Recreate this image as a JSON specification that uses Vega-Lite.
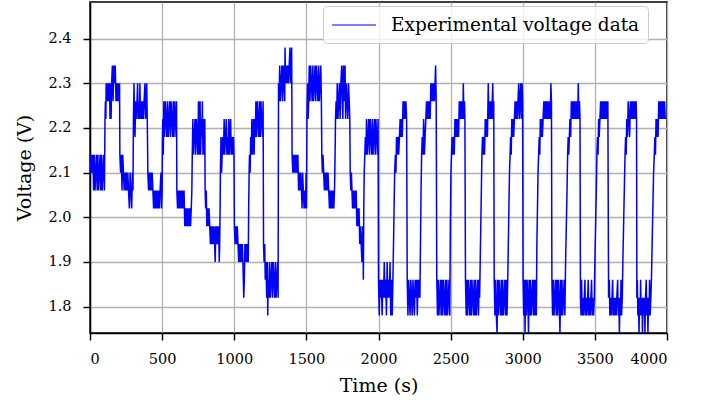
{
"$schema": "https://vega.github.io/schema/vega-lite/v6.json",
"width": 577,
"height": 331,
"autosize": {"type": "none"},
"padding": {"left": 90, "top": 2, "right": 45, "bottom": 72},
"config": {
  "font": "DejaVu Serif",
  "view": {"stroke": "#000000", "strokeWidth": 1.5},
  "axis": {
    "domainColor": "#000000", "domainWidth": 1.5,
    "tickColor": "#000000", "tickWidth": 1.5, "tickSize": 7,
    "labelFont": "DejaVu Serif", "labelFontSize": 14.5, "labelColor": "#000000",
    "titleFont": "DejaVu Serif", "titleFontSize": 19, "titleFontWeight": "normal", "titleColor": "#000000",
    "gridColor": "#b0b0b0", "gridWidth": 1.3, "gridOpacity": 1
  }
},
"data": {"values": [
{"time":0,"voltage":2.14},{"time":5,"voltage":2.10},{"time":10,"voltage":2.14},{"time":15,"voltage":2.10},{"time":20,"voltage":2.14},{"time":25,"voltage":2.06},{"time":30,"voltage":2.14},{"time":35,"voltage":2.06},{"time":40,"voltage":2.10},{"time":45,"voltage":2.14},{"time":50,"voltage":2.06},{"time":55,"voltage":2.14},{"time":60,"voltage":2.06},{"time":65,"voltage":2.10},{"time":70,"voltage":2.14},{"time":75,"voltage":2.06},{"time":80,"voltage":2.14},{"time":85,"voltage":2.06},{"time":90,"voltage":2.10},{"time":95,"voltage":2.14},{"time":100,"voltage":2.06},
{"time":104,"voltage":2.22},{"time":107,"voltage":2.26},{"time":110,"voltage":2.22},{"time":112,"voltage":2.30},{"time":117,"voltage":2.26},{"time":122,"voltage":2.30},{"time":127,"voltage":2.26},{"time":132,"voltage":2.30},{"time":137,"voltage":2.26},{"time":139,"voltage":2.22},{"time":142,"voltage":2.30},{"time":146,"voltage":2.22},{"time":150,"voltage":2.30},{"time":155,"voltage":2.34},{"time":160,"voltage":2.26},{"time":165,"voltage":2.34},{"time":170,"voltage":2.30},{"time":175,"voltage":2.34},{"time":180,"voltage":2.26},{"time":185,"voltage":2.30},{"time":190,"voltage":2.26},{"time":195,"voltage":2.30},{"time":200,"voltage":2.26},{"time":205,"voltage":2.30},
{"time":207,"voltage":2.14},{"time":212,"voltage":2.10},{"time":217,"voltage":2.14},{"time":222,"voltage":2.06},{"time":227,"voltage":2.14},{"time":232,"voltage":2.10},{"time":237,"voltage":2.06},{"time":242,"voltage":2.10},{"time":247,"voltage":2.06},{"time":252,"voltage":2.10},{"time":257,"voltage":2.06},{"time":262,"voltage":2.10},{"time":267,"voltage":2.06},{"time":273,"voltage":2.02},{"time":278,"voltage":2.10},{"time":283,"voltage":2.06},{"time":289,"voltage":2.02},{"time":294,"voltage":2.10},{"time":298,"voltage":2.06},
{"time":301,"voltage":2.22},{"time":305,"voltage":2.30},{"time":308,"voltage":2.22},{"time":312,"voltage":2.18},{"time":316,"voltage":2.26},{"time":321,"voltage":2.22},{"time":326,"voltage":2.26},{"time":330,"voltage":2.30},{"time":334,"voltage":2.22},{"time":339,"voltage":2.26},{"time":343,"voltage":2.22},{"time":346,"voltage":2.30},{"time":350,"voltage":2.22},{"time":355,"voltage":2.26},{"time":360,"voltage":2.22},{"time":365,"voltage":2.26},{"time":370,"voltage":2.22},{"time":375,"voltage":2.26},{"time":381,"voltage":2.30},{"time":385,"voltage":2.22},{"time":390,"voltage":2.26},{"time":393,"voltage":2.30},{"time":397,"voltage":2.22},
{"time":401,"voltage":2.10},{"time":406,"voltage":2.06},{"time":411,"voltage":2.10},{"time":416,"voltage":2.06},{"time":421,"voltage":2.10},{"time":426,"voltage":2.06},{"time":431,"voltage":2.10},{"time":436,"voltage":2.06},{"time":441,"voltage":2.02},{"time":446,"voltage":2.06},{"time":451,"voltage":2.02},{"time":456,"voltage":2.06},{"time":461,"voltage":2.02},{"time":466,"voltage":2.06},{"time":471,"voltage":2.02},{"time":476,"voltage":2.06},{"time":481,"voltage":2.02},{"time":486,"voltage":2.06},{"time":492,"voltage":2.10},{"time":496,"voltage":2.02},{"time":500,"voltage":2.06},
{"time":502,"voltage":2.18},{"time":505,"voltage":2.22},{"time":508,"voltage":2.14},{"time":512,"voltage":2.26},{"time":517,"voltage":2.18},{"time":522,"voltage":2.26},{"time":527,"voltage":2.22},{"time":532,"voltage":2.18},{"time":537,"voltage":2.26},{"time":542,"voltage":2.18},{"time":547,"voltage":2.22},{"time":552,"voltage":2.26},{"time":557,"voltage":2.18},{"time":562,"voltage":2.26},{"time":567,"voltage":2.22},{"time":572,"voltage":2.18},{"time":577,"voltage":2.26},{"time":582,"voltage":2.18},{"time":587,"voltage":2.26},{"time":592,"voltage":2.22},{"time":597,"voltage":2.18},{"time":600,"voltage":2.26},
{"time":602,"voltage":2.06},{"time":607,"voltage":2.02},{"time":612,"voltage":2.06},{"time":617,"voltage":2.02},{"time":622,"voltage":2.06},{"time":627,"voltage":2.02},{"time":632,"voltage":2.06},{"time":637,"voltage":2.02},{"time":642,"voltage":2.06},{"time":647,"voltage":2.02},{"time":652,"voltage":2.06},{"time":657,"voltage":1.98},{"time":662,"voltage":2.02},{"time":667,"voltage":1.98},{"time":672,"voltage":2.02},{"time":677,"voltage":1.98},{"time":682,"voltage":2.02},{"time":687,"voltage":1.98},{"time":692,"voltage":2.02},{"time":697,"voltage":1.98},{"time":702,"voltage":2.02},
{"time":706,"voltage":2.06},{"time":709,"voltage":2.14},{"time":713,"voltage":2.22},{"time":718,"voltage":2.14},{"time":723,"voltage":2.18},{"time":728,"voltage":2.22},{"time":733,"voltage":2.14},{"time":738,"voltage":2.22},{"time":743,"voltage":2.18},{"time":748,"voltage":2.14},{"time":752,"voltage":2.26},{"time":756,"voltage":2.14},{"time":760,"voltage":2.22},{"time":763,"voltage":2.26},{"time":767,"voltage":2.14},{"time":772,"voltage":2.22},{"time":776,"voltage":2.18},{"time":779,"voltage":2.26},{"time":783,"voltage":2.14},{"time":788,"voltage":2.22},{"time":793,"voltage":2.14},{"time":796,"voltage":2.22},
{"time":798,"voltage":2.06},{"time":802,"voltage":2.02},{"time":806,"voltage":2.06},{"time":810,"voltage":1.98},{"time":815,"voltage":2.02},{"time":820,"voltage":1.98},{"time":825,"voltage":2.02},{"time":830,"voltage":1.98},{"time":835,"voltage":1.94},{"time":840,"voltage":1.98},{"time":845,"voltage":1.94},{"time":850,"voltage":1.98},{"time":855,"voltage":1.94},{"time":860,"voltage":1.98},{"time":864,"voltage":1.94},{"time":868,"voltage":1.90},{"time":872,"voltage":1.98},{"time":877,"voltage":1.94},{"time":882,"voltage":1.98},{"time":887,"voltage":1.94},{"time":892,"voltage":1.98},{"time":896,"voltage":1.90},{"time":899,"voltage":1.94},
{"time":902,"voltage":2.02},{"time":904,"voltage":2.10},{"time":908,"voltage":2.18},{"time":912,"voltage":2.10},{"time":916,"voltage":2.14},{"time":920,"voltage":2.18},{"time":925,"voltage":2.14},{"time":930,"voltage":2.22},{"time":934,"voltage":2.14},{"time":939,"voltage":2.18},{"time":945,"voltage":2.22},{"time":949,"voltage":2.14},{"time":954,"voltage":2.18},{"time":958,"voltage":2.14},{"time":962,"voltage":2.22},{"time":966,"voltage":2.14},{"time":970,"voltage":2.18},{"time":975,"voltage":2.22},{"time":979,"voltage":2.14},{"time":984,"voltage":2.18},{"time":989,"voltage":2.14},{"time":994,"voltage":2.18},{"time":998,"voltage":2.14},
{"time":1001,"voltage":1.98},{"time":1006,"voltage":1.94},{"time":1011,"voltage":1.98},{"time":1016,"voltage":1.94},{"time":1021,"voltage":1.98},{"time":1026,"voltage":1.94},{"time":1031,"voltage":1.90},{"time":1036,"voltage":1.94},{"time":1041,"voltage":1.90},{"time":1046,"voltage":1.94},{"time":1051,"voltage":1.90},{"time":1056,"voltage":1.94},{"time":1060,"voltage":1.90},{"time":1063,"voltage":1.86},{"time":1066,"voltage":1.82},{"time":1070,"voltage":1.86},{"time":1074,"voltage":1.94},{"time":1079,"voltage":1.90},{"time":1084,"voltage":1.94},{"time":1089,"voltage":1.90},{"time":1094,"voltage":1.94},{"time":1097,"voltage":1.90},
{"time":1100,"voltage":2.02},{"time":1103,"voltage":2.10},{"time":1106,"voltage":2.14},{"time":1110,"voltage":2.10},{"time":1114,"voltage":2.18},{"time":1118,"voltage":2.14},{"time":1122,"voltage":2.22},{"time":1126,"voltage":2.14},{"time":1130,"voltage":2.18},{"time":1134,"voltage":2.22},{"time":1138,"voltage":2.14},{"time":1142,"voltage":2.22},{"time":1146,"voltage":2.18},{"time":1150,"voltage":2.26},{"time":1155,"voltage":2.18},{"time":1160,"voltage":2.26},{"time":1165,"voltage":2.22},{"time":1170,"voltage":2.18},{"time":1175,"voltage":2.26},{"time":1180,"voltage":2.18},{"time":1185,"voltage":2.26},{"time":1190,"voltage":2.22},{"time":1195,"voltage":2.18},{"time":1200,"voltage":2.26},
{"time":1203,"voltage":1.94},{"time":1207,"voltage":1.90},{"time":1211,"voltage":1.94},{"time":1215,"voltage":1.86},{"time":1220,"voltage":1.90},{"time":1225,"voltage":1.82},{"time":1230,"voltage":1.90},{"time":1232,"voltage":1.78},{"time":1235,"voltage":1.86},{"time":1240,"voltage":1.82},{"time":1245,"voltage":1.90},{"time":1250,"voltage":1.82},{"time":1255,"voltage":1.86},{"time":1260,"voltage":1.90},{"time":1265,"voltage":1.82},{"time":1270,"voltage":1.90},{"time":1275,"voltage":1.86},{"time":1280,"voltage":1.82},{"time":1285,"voltage":1.90},{"time":1290,"voltage":1.82},{"time":1295,"voltage":1.86},{"time":1300,"voltage":1.90},{"time":1304,"voltage":1.82},
{"time":1307,"voltage":2.30},{"time":1311,"voltage":2.26},{"time":1315,"voltage":2.34},{"time":1320,"voltage":2.26},{"time":1325,"voltage":2.30},{"time":1330,"voltage":2.34},{"time":1335,"voltage":2.26},{"time":1340,"voltage":2.34},{"time":1345,"voltage":2.30},{"time":1350,"voltage":2.26},{"time":1352,"voltage":2.38},{"time":1356,"voltage":2.30},{"time":1361,"voltage":2.34},{"time":1366,"voltage":2.30},{"time":1371,"voltage":2.34},{"time":1376,"voltage":2.30},{"time":1381,"voltage":2.34},{"time":1386,"voltage":2.38},{"time":1390,"voltage":2.30},{"time":1395,"voltage":2.34},{"time":1398,"voltage":2.38},
{"time":1401,"voltage":2.14},{"time":1406,"voltage":2.10},{"time":1411,"voltage":2.14},{"time":1416,"voltage":2.10},{"time":1421,"voltage":2.14},{"time":1426,"voltage":2.10},{"time":1431,"voltage":2.14},{"time":1436,"voltage":2.10},{"time":1441,"voltage":2.14},{"time":1446,"voltage":2.06},{"time":1451,"voltage":2.10},{"time":1456,"voltage":2.06},{"time":1461,"voltage":2.10},{"time":1466,"voltage":2.06},{"time":1470,"voltage":2.02},{"time":1474,"voltage":2.10},{"time":1479,"voltage":2.06},{"time":1484,"voltage":2.02},{"time":1489,"voltage":2.06},{"time":1494,"voltage":2.02},{"time":1498,"voltage":2.10},{"time":1501,"voltage":2.02},
{"time":1504,"voltage":2.22},{"time":1508,"voltage":2.30},{"time":1512,"voltage":2.22},{"time":1516,"voltage":2.26},{"time":1520,"voltage":2.34},{"time":1525,"voltage":2.26},{"time":1530,"voltage":2.34},{"time":1535,"voltage":2.30},{"time":1540,"voltage":2.26},{"time":1545,"voltage":2.34},{"time":1550,"voltage":2.26},{"time":1555,"voltage":2.30},{"time":1560,"voltage":2.34},{"time":1565,"voltage":2.26},{"time":1570,"voltage":2.34},{"time":1575,"voltage":2.30},{"time":1580,"voltage":2.26},{"time":1585,"voltage":2.34},{"time":1590,"voltage":2.26},{"time":1595,"voltage":2.30},{"time":1600,"voltage":2.34},{"time":1604,"voltage":2.26},
{"time":1607,"voltage":2.14},{"time":1611,"voltage":2.10},{"time":1615,"voltage":2.14},{"time":1620,"voltage":2.10},{"time":1625,"voltage":2.06},{"time":1630,"voltage":2.10},{"time":1635,"voltage":2.06},{"time":1640,"voltage":2.10},{"time":1645,"voltage":2.06},{"time":1650,"voltage":2.10},{"time":1655,"voltage":2.06},{"time":1660,"voltage":2.02},{"time":1665,"voltage":2.06},{"time":1670,"voltage":2.02},{"time":1675,"voltage":2.06},{"time":1680,"voltage":2.02},{"time":1685,"voltage":2.06},{"time":1690,"voltage":2.02},{"time":1695,"voltage":2.06},
{"time":1699,"voltage":2.14},{"time":1702,"voltage":2.22},{"time":1706,"voltage":2.26},{"time":1710,"voltage":2.22},{"time":1714,"voltage":2.30},{"time":1719,"voltage":2.22},{"time":1724,"voltage":2.26},{"time":1729,"voltage":2.30},{"time":1734,"voltage":2.22},{"time":1739,"voltage":2.30},{"time":1745,"voltage":2.34},{"time":1749,"voltage":2.26},{"time":1753,"voltage":2.22},{"time":1757,"voltage":2.34},{"time":1761,"voltage":2.26},{"time":1768,"voltage":2.34},{"time":1772,"voltage":2.22},{"time":1777,"voltage":2.30},{"time":1782,"voltage":2.26},{"time":1787,"voltage":2.22},{"time":1792,"voltage":2.30},{"time":1797,"voltage":2.26},{"time":1801,"voltage":2.22},
{"time":1804,"voltage":2.10},{"time":1808,"voltage":2.06},{"time":1812,"voltage":2.10},{"time":1816,"voltage":2.06},{"time":1820,"voltage":2.02},{"time":1825,"voltage":2.06},{"time":1830,"voltage":2.02},{"time":1835,"voltage":2.06},{"time":1840,"voltage":2.02},{"time":1845,"voltage":2.06},{"time":1850,"voltage":1.98},{"time":1855,"voltage":2.02},{"time":1860,"voltage":1.98},{"time":1865,"voltage":2.02},{"time":1870,"voltage":1.94},{"time":1875,"voltage":1.98},{"time":1880,"voltage":1.94},{"time":1885,"voltage":1.90},{"time":1889,"voltage":1.98},{"time":1893,"voltage":1.94},{"time":1895,"voltage":1.86},
{"time":1898,"voltage":2.02},{"time":1901,"voltage":2.10},{"time":1905,"voltage":2.14},{"time":1909,"voltage":2.18},{"time":1913,"voltage":2.14},{"time":1917,"voltage":2.22},{"time":1922,"voltage":2.14},{"time":1927,"voltage":2.18},{"time":1932,"voltage":2.22},{"time":1937,"voltage":2.14},{"time":1942,"voltage":2.22},{"time":1947,"voltage":2.18},{"time":1952,"voltage":2.14},{"time":1957,"voltage":2.22},{"time":1962,"voltage":2.14},{"time":1967,"voltage":2.18},{"time":1972,"voltage":2.22},{"time":1977,"voltage":2.14},{"time":1982,"voltage":2.22},{"time":1987,"voltage":2.18},{"time":1992,"voltage":2.14},{"time":1997,"voltage":2.22},
{"time":2000,"voltage":1.86},{"time":2005,"voltage":1.78},{"time":2010,"voltage":1.86},{"time":2015,"voltage":1.82},{"time":2020,"voltage":1.86},{"time":2025,"voltage":1.78},{"time":2030,"voltage":1.86},{"time":2035,"voltage":1.82},{"time":2040,"voltage":1.90},{"time":2045,"voltage":1.82},{"time":2050,"voltage":1.86},{"time":2055,"voltage":1.78},{"time":2060,"voltage":1.90},{"time":2065,"voltage":1.82},{"time":2070,"voltage":1.86},{"time":2075,"voltage":1.82},{"time":2080,"voltage":1.90},{"time":2085,"voltage":1.78},{"time":2090,"voltage":1.86},{"time":2095,"voltage":1.78},{"time":2100,"voltage":1.86},
{"time":2104,"voltage":1.94},{"time":2108,"voltage":2.02},{"time":2112,"voltage":2.10},{"time":2117,"voltage":2.14},{"time":2121,"voltage":2.10},{"time":2125,"voltage":2.18},{"time":2130,"voltage":2.14},{"time":2135,"voltage":2.18},{"time":2140,"voltage":2.14},{"time":2145,"voltage":2.18},{"time":2150,"voltage":2.22},{"time":2155,"voltage":2.18},{"time":2160,"voltage":2.22},{"time":2165,"voltage":2.18},{"time":2170,"voltage":2.26},{"time":2175,"voltage":2.22},{"time":2180,"voltage":2.26},{"time":2185,"voltage":2.22},{"time":2190,"voltage":2.26},{"time":2195,"voltage":2.22},
{"time":2199,"voltage":1.86},{"time":2204,"voltage":1.78},{"time":2209,"voltage":1.86},{"time":2214,"voltage":1.82},{"time":2219,"voltage":1.78},{"time":2224,"voltage":1.86},{"time":2229,"voltage":1.82},{"time":2234,"voltage":1.78},{"time":2239,"voltage":1.86},{"time":2244,"voltage":1.82},{"time":2249,"voltage":1.78},{"time":2254,"voltage":1.86},{"time":2259,"voltage":1.82},{"time":2264,"voltage":1.86},{"time":2269,"voltage":1.78},{"time":2274,"voltage":1.86},{"time":2279,"voltage":1.82},{"time":2284,"voltage":1.86},{"time":2287,"voltage":1.82},
{"time":2291,"voltage":1.94},{"time":2295,"voltage":2.06},{"time":2299,"voltage":2.14},{"time":2303,"voltage":2.18},{"time":2308,"voltage":2.14},{"time":2313,"voltage":2.22},{"time":2318,"voltage":2.14},{"time":2323,"voltage":2.18},{"time":2328,"voltage":2.22},{"time":2333,"voltage":2.26},{"time":2338,"voltage":2.22},{"time":2343,"voltage":2.26},{"time":2348,"voltage":2.22},{"time":2353,"voltage":2.26},{"time":2358,"voltage":2.22},{"time":2363,"voltage":2.30},{"time":2368,"voltage":2.26},{"time":2373,"voltage":2.30},{"time":2378,"voltage":2.26},{"time":2383,"voltage":2.30},{"time":2388,"voltage":2.26},{"time":2392,"voltage":2.30},{"time":2396,"voltage":2.34},{"time":2400,"voltage":2.26},
{"time":2404,"voltage":1.86},{"time":2409,"voltage":1.78},{"time":2414,"voltage":1.86},{"time":2419,"voltage":1.78},{"time":2424,"voltage":1.82},{"time":2429,"voltage":1.86},{"time":2434,"voltage":1.78},{"time":2439,"voltage":1.86},{"time":2444,"voltage":1.78},{"time":2449,"voltage":1.86},{"time":2454,"voltage":1.82},{"time":2459,"voltage":1.78},{"time":2464,"voltage":1.86},{"time":2469,"voltage":1.78},{"time":2474,"voltage":1.86},{"time":2479,"voltage":1.78},{"time":2484,"voltage":1.82},{"time":2489,"voltage":1.86},{"time":2494,"voltage":1.78},
{"time":2498,"voltage":1.98},{"time":2502,"voltage":2.10},{"time":2506,"voltage":2.14},{"time":2510,"voltage":2.18},{"time":2515,"voltage":2.14},{"time":2520,"voltage":2.18},{"time":2525,"voltage":2.14},{"time":2530,"voltage":2.22},{"time":2535,"voltage":2.18},{"time":2540,"voltage":2.22},{"time":2545,"voltage":2.18},{"time":2550,"voltage":2.22},{"time":2555,"voltage":2.18},{"time":2560,"voltage":2.26},{"time":2565,"voltage":2.22},{"time":2570,"voltage":2.26},{"time":2575,"voltage":2.22},{"time":2580,"voltage":2.26},{"time":2585,"voltage":2.22},{"time":2588,"voltage":2.30},{"time":2592,"voltage":2.22},{"time":2596,"voltage":2.26},{"time":2599,"voltage":2.22},
{"time":2603,"voltage":1.86},{"time":2608,"voltage":1.78},{"time":2613,"voltage":1.86},{"time":2618,"voltage":1.78},{"time":2623,"voltage":1.86},{"time":2628,"voltage":1.82},{"time":2633,"voltage":1.78},{"time":2638,"voltage":1.86},{"time":2643,"voltage":1.78},{"time":2648,"voltage":1.86},{"time":2653,"voltage":1.82},{"time":2658,"voltage":1.78},{"time":2663,"voltage":1.86},{"time":2668,"voltage":1.78},{"time":2673,"voltage":1.86},{"time":2678,"voltage":1.78},{"time":2683,"voltage":1.82},{"time":2688,"voltage":1.86},{"time":2693,"voltage":1.78},{"time":2698,"voltage":1.86},{"time":2701,"voltage":1.82},
{"time":2705,"voltage":1.90},{"time":2709,"voltage":1.98},{"time":2713,"voltage":2.06},{"time":2717,"voltage":2.14},{"time":2721,"voltage":2.18},{"time":2725,"voltage":2.14},{"time":2730,"voltage":2.18},{"time":2735,"voltage":2.14},{"time":2740,"voltage":2.22},{"time":2745,"voltage":2.18},{"time":2750,"voltage":2.22},{"time":2755,"voltage":2.18},{"time":2761,"voltage":2.30},{"time":2765,"voltage":2.22},{"time":2770,"voltage":2.26},{"time":2775,"voltage":2.22},{"time":2780,"voltage":2.26},{"time":2785,"voltage":2.22},{"time":2792,"voltage":2.30},{"time":2796,"voltage":2.22},{"time":2799,"voltage":2.26},
{"time":2802,"voltage":1.86},{"time":2807,"voltage":1.78},{"time":2812,"voltage":1.86},{"time":2817,"voltage":1.78},{"time":2822,"voltage":1.74},{"time":2826,"voltage":1.86},{"time":2831,"voltage":1.78},{"time":2836,"voltage":1.86},{"time":2841,"voltage":1.82},{"time":2846,"voltage":1.78},{"time":2851,"voltage":1.86},{"time":2856,"voltage":1.78},{"time":2861,"voltage":1.86},{"time":2866,"voltage":1.78},{"time":2871,"voltage":1.82},{"time":2876,"voltage":1.86},{"time":2881,"voltage":1.78},{"time":2886,"voltage":1.86},{"time":2891,"voltage":1.78},{"time":2896,"voltage":1.86},
{"time":2900,"voltage":1.94},{"time":2904,"voltage":2.02},{"time":2908,"voltage":2.10},{"time":2912,"voltage":2.14},{"time":2916,"voltage":2.18},{"time":2920,"voltage":2.14},{"time":2924,"voltage":2.22},{"time":2928,"voltage":2.18},{"time":2932,"voltage":2.22},{"time":2937,"voltage":2.18},{"time":2942,"voltage":2.22},{"time":2947,"voltage":2.26},{"time":2952,"voltage":2.22},{"time":2957,"voltage":2.26},{"time":2962,"voltage":2.22},{"time":2967,"voltage":2.26},{"time":2972,"voltage":2.30},{"time":2976,"voltage":2.22},{"time":2981,"voltage":2.26},{"time":2986,"voltage":2.30},{"time":2990,"voltage":2.22},{"time":2995,"voltage":2.30},{"time":2999,"voltage":2.26},
{"time":3002,"voltage":1.86},{"time":3007,"voltage":1.78},{"time":3012,"voltage":1.86},{"time":3016,"voltage":1.74},{"time":3020,"voltage":1.86},{"time":3025,"voltage":1.78},{"time":3030,"voltage":1.86},{"time":3035,"voltage":1.82},{"time":3040,"voltage":1.74},{"time":3044,"voltage":1.86},{"time":3049,"voltage":1.78},{"time":3054,"voltage":1.86},{"time":3059,"voltage":1.78},{"time":3064,"voltage":1.82},{"time":3069,"voltage":1.86},{"time":3074,"voltage":1.78},{"time":3079,"voltage":1.86},{"time":3084,"voltage":1.78},{"time":3089,"voltage":1.86},{"time":3094,"voltage":1.78},
{"time":3098,"voltage":1.94},{"time":3102,"voltage":2.02},{"time":3106,"voltage":2.10},{"time":3110,"voltage":2.14},{"time":3114,"voltage":2.18},{"time":3118,"voltage":2.14},{"time":3122,"voltage":2.22},{"time":3126,"voltage":2.18},{"time":3131,"voltage":2.22},{"time":3136,"voltage":2.18},{"time":3141,"voltage":2.22},{"time":3146,"voltage":2.26},{"time":3151,"voltage":2.22},{"time":3156,"voltage":2.26},{"time":3161,"voltage":2.22},{"time":3166,"voltage":2.26},{"time":3171,"voltage":2.22},{"time":3176,"voltage":2.26},{"time":3181,"voltage":2.22},{"time":3186,"voltage":2.26},{"time":3191,"voltage":2.22},{"time":3195,"voltage":2.30},{"time":3199,"voltage":2.26},
{"time":3202,"voltage":1.86},{"time":3207,"voltage":1.78},{"time":3212,"voltage":1.86},{"time":3217,"voltage":1.78},{"time":3222,"voltage":1.82},{"time":3227,"voltage":1.86},{"time":3232,"voltage":1.78},{"time":3237,"voltage":1.86},{"time":3242,"voltage":1.78},{"time":3247,"voltage":1.86},{"time":3252,"voltage":1.82},{"time":3258,"voltage":1.74},{"time":3262,"voltage":1.86},{"time":3267,"voltage":1.78},{"time":3272,"voltage":1.86},{"time":3277,"voltage":1.78},{"time":3282,"voltage":1.82},{"time":3287,"voltage":1.86},{"time":3292,"voltage":1.78},
{"time":3297,"voltage":1.90},{"time":3302,"voltage":1.98},{"time":3307,"voltage":2.06},{"time":3311,"voltage":2.14},{"time":3315,"voltage":2.18},{"time":3319,"voltage":2.14},{"time":3323,"voltage":2.18},{"time":3327,"voltage":2.22},{"time":3332,"voltage":2.18},{"time":3337,"voltage":2.26},{"time":3342,"voltage":2.22},{"time":3347,"voltage":2.26},{"time":3352,"voltage":2.22},{"time":3357,"voltage":2.26},{"time":3362,"voltage":2.22},{"time":3367,"voltage":2.26},{"time":3372,"voltage":2.22},{"time":3377,"voltage":2.26},{"time":3381,"voltage":2.22},{"time":3385,"voltage":2.30},{"time":3389,"voltage":2.22},{"time":3393,"voltage":2.26},{"time":3397,"voltage":2.22},
{"time":3400,"voltage":1.82},{"time":3404,"voltage":1.78},{"time":3408,"voltage":1.86},{"time":3412,"voltage":1.78},{"time":3417,"voltage":1.82},{"time":3422,"voltage":1.78},{"time":3427,"voltage":1.82},{"time":3431,"voltage":1.86},{"time":3435,"voltage":1.78},{"time":3440,"voltage":1.82},{"time":3445,"voltage":1.78},{"time":3450,"voltage":1.82},{"time":3454,"voltage":1.86},{"time":3458,"voltage":1.78},{"time":3463,"voltage":1.82},{"time":3468,"voltage":1.78},{"time":3473,"voltage":1.82},{"time":3477,"voltage":1.86},{"time":3481,"voltage":1.78},{"time":3486,"voltage":1.82},{"time":3491,"voltage":1.78},{"time":3496,"voltage":1.82},
{"time":3500,"voltage":1.90},{"time":3505,"voltage":1.98},{"time":3510,"voltage":2.06},{"time":3514,"voltage":2.14},{"time":3518,"voltage":2.18},{"time":3522,"voltage":2.14},{"time":3526,"voltage":2.22},{"time":3530,"voltage":2.18},{"time":3535,"voltage":2.22},{"time":3540,"voltage":2.26},{"time":3545,"voltage":2.22},{"time":3550,"voltage":2.26},{"time":3555,"voltage":2.22},{"time":3560,"voltage":2.26},{"time":3565,"voltage":2.22},{"time":3570,"voltage":2.26},{"time":3575,"voltage":2.22},{"time":3580,"voltage":2.26},{"time":3585,"voltage":2.22},{"time":3590,"voltage":2.26},
{"time":3595,"voltage":1.82},{"time":3600,"voltage":1.86},{"time":3604,"voltage":1.78},{"time":3609,"voltage":1.82},{"time":3614,"voltage":1.78},{"time":3619,"voltage":1.82},{"time":3623,"voltage":1.86},{"time":3627,"voltage":1.78},{"time":3632,"voltage":1.82},{"time":3637,"voltage":1.78},{"time":3642,"voltage":1.82},{"time":3647,"voltage":1.78},{"time":3652,"voltage":1.82},{"time":3658,"voltage":1.86},{"time":3662,"voltage":1.78},{"time":3666,"voltage":1.82},{"time":3670,"voltage":1.74},{"time":3674,"voltage":1.82},{"time":3678,"voltage":1.78},{"time":3681,"voltage":1.86},{"time":3685,"voltage":1.78},{"time":3690,"voltage":1.82},
{"time":3694,"voltage":1.90},{"time":3699,"voltage":1.98},{"time":3704,"voltage":2.06},{"time":3709,"voltage":2.14},{"time":3713,"voltage":2.18},{"time":3717,"voltage":2.14},{"time":3721,"voltage":2.22},{"time":3726,"voltage":2.18},{"time":3731,"voltage":2.26},{"time":3736,"voltage":2.22},{"time":3741,"voltage":2.18},{"time":3746,"voltage":2.26},{"time":3751,"voltage":2.22},{"time":3756,"voltage":2.26},{"time":3761,"voltage":2.22},{"time":3766,"voltage":2.26},{"time":3771,"voltage":2.22},{"time":3776,"voltage":2.26},{"time":3781,"voltage":2.22},{"time":3786,"voltage":2.26},{"time":3789,"voltage":2.22},
{"time":3791,"voltage":1.82},{"time":3794,"voltage":1.86},{"time":3798,"voltage":1.78},{"time":3802,"voltage":1.82},{"time":3806,"voltage":1.74},{"time":3810,"voltage":1.82},{"time":3814,"voltage":1.78},{"time":3817,"voltage":1.86},{"time":3821,"voltage":1.78},{"time":3826,"voltage":1.82},{"time":3830,"voltage":1.74},{"time":3834,"voltage":1.82},{"time":3838,"voltage":1.78},{"time":3843,"voltage":1.82},{"time":3847,"voltage":1.74},{"time":3851,"voltage":1.82},{"time":3856,"voltage":1.86},{"time":3860,"voltage":1.78},{"time":3864,"voltage":1.82},{"time":3868,"voltage":1.74},{"time":3872,"voltage":1.82},{"time":3876,"voltage":1.78},{"time":3879,"voltage":1.86},{"time":3883,"voltage":1.78},{"time":3888,"voltage":1.82},
{"time":3892,"voltage":1.86},{"time":3897,"voltage":1.94},{"time":3902,"voltage":2.02},{"time":3907,"voltage":2.10},{"time":3912,"voltage":2.14},{"time":3916,"voltage":2.18},{"time":3920,"voltage":2.14},{"time":3924,"voltage":2.22},{"time":3928,"voltage":2.18},{"time":3933,"voltage":2.22},{"time":3938,"voltage":2.18},{"time":3943,"voltage":2.26},{"time":3948,"voltage":2.22},{"time":3953,"voltage":2.26},{"time":3958,"voltage":2.22},{"time":3963,"voltage":2.26},{"time":3968,"voltage":2.22},{"time":3973,"voltage":2.26},{"time":3978,"voltage":2.22},{"time":3983,"voltage":2.26},{"time":3988,"voltage":2.22}
]},
"mark": {"type": "line", "strokeWidth": 1.5, "clip": true},
"encoding": {
  "x": {"field": "time", "type": "quantitative",
        "scale": {"domain": [0, 4000], "nice": false, "zero": false},
        "axis": {"title": "Time (s)", "values": [0,500,1000,1500,2000,2500,3000,3500,4000], "format": "d", "labelPadding": 12, "titlePadding": 11}},
  "y": {"field": "voltage", "type": "quantitative",
        "scale": {"domain": [1.741, 2.482], "nice": false, "zero": false},
        "axis": {"title": "Voltage (V)", "values": [1.8,1.9,2.0,2.1,2.2,2.3,2.4], "format": ".1f", "labelPadding": 12, "titlePadding": 13}},
  "color": {"datum": "Experimental voltage data", "type": "nominal",
            "scale": {"range": ["#0000ff"]},
            "legend": {"orient": "none", "legendX": 233, "legendY": 4, "title": null,
                       "symbolType": "M-1,0H3.4", "symbolSize": 400, "symbolStrokeWidth": 1.2, "symbolFillColor": "transparent",
                       "labelFont": "DejaVu Serif", "labelFontSize": 18.5, "labelColor": "#000000", "labelLimit": 400, "labelOffset": 38,
                       "fillColor": "rgba(255,255,255,0.8)", "strokeColor": "#cccccc", "cornerRadius": 4, "padding": 8}}
}
}
